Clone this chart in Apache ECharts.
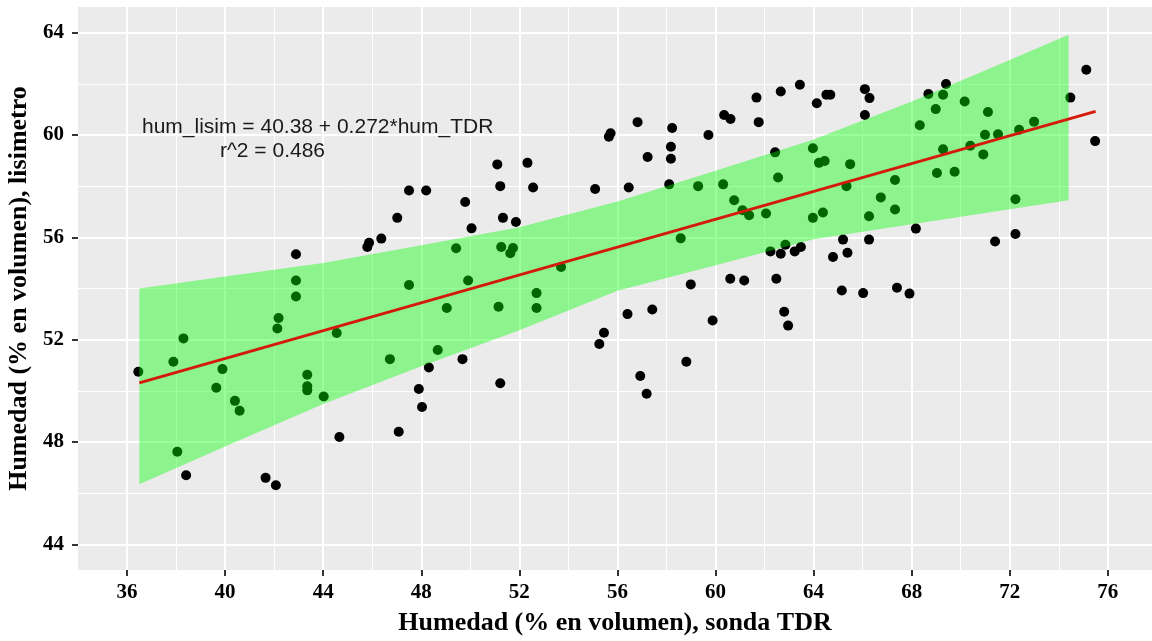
<!DOCTYPE html>
<html>
<head>
<meta charset="utf-8">
<title>Humedad lisimetro vs sonda TDR</title>
<script src="https://cdn.jsdelivr.net/npm/echarts@6.0.0/dist/echarts.min.js"></script>
<style>
  html, body { margin: 0; padding: 0; background: #fff; }
  #chart { width: 1152px; height: 641px; }
</style>
</head>
<body>
<div id="chart"></div>
<script>
// humedad medida con la sonda TDR (eje x)
const humTDR = [
  36.46, 38.30, 37.89, 38.05, 38.41, 39.89, 39.64, 40.40, 40.59, 42.89,
  42.89, 42.89, 42.18, 42.13, 41.65, 42.07, 43.35, 43.35, 43.35, 44.02,
  44.66, 44.55, 45.80, 45.87, 46.37, 47.02, 47.50, 48.20, 47.50, 46.72,
  48.67, 48.31, 47.90, 48.03, 47.08, 49.04, 49.42, 49.91, 49.79, 50.05,
  49.68, 51.10, 51.22, 52.33, 52.56, 51.33, 51.86, 51.26, 51.74, 51.63,
  51.15, 52.70, 52.70, 51.22, 53.70, 55.09, 55.26, 55.45, 55.65, 55.72,
  56.46, 56.82, 56.41, 57.42, 56.93, 57.19, 57.23, 58.23, 58.18, 58.18,
  58.11, 58.58, 58.99, 58.81, 59.29, 59.71, 59.88, 60.31, 60.35, 60.61,
  60.76, 61.10, 61.37, 60.60, 61.17, 61.67, 61.76, 62.06, 62.66, 62.43,
  62.55, 62.24, 62.66, 62.48, 62.80, 62.96, 62.85, 63.23, 63.48, 63.44,
  64.13, 64.52, 64.68, 63.97, 64.22, 64.45, 63.97, 64.38, 65.20, 64.79,
  65.38, 65.15, 65.49, 65.34, 66.09, 66.28, 66.09, 66.02, 66.26, 66.26,
  66.74, 67.32, 67.32, 67.40, 67.91, 68.17, 68.33, 68.68, 68.98, 69.28,
  69.40, 69.28, 69.03, 69.75, 70.16, 70.39, 71.11, 70.99, 70.92, 71.52,
  71.40, 72.23, 72.23, 72.38, 72.99, 74.47, 75.12, 75.48
]
// humedad medida en el lisimetro (eje y)
const humLisim = [
  50.75, 52.05, 51.14, 47.62, 46.70, 50.85, 50.12, 49.61, 49.22, 55.34,
  54.31, 53.69, 52.85, 52.44, 46.60, 46.31, 50.63, 50.18, 50.02, 49.78,
  48.20, 52.26, 55.62, 55.79, 55.95, 56.76, 57.83, 57.83, 54.14, 51.24,
  51.60, 50.91, 50.07, 49.37, 48.40, 53.24, 55.57, 54.31, 57.38, 56.35,
  51.24, 58.85, 58.00, 58.91, 57.95, 56.76, 56.60, 55.62, 55.58, 55.38,
  53.29, 53.82, 53.24, 50.30, 54.84, 57.89, 51.83, 52.27, 59.93, 60.07,
  57.95, 60.50, 53.00, 53.18, 50.58, 49.89, 59.14, 60.27, 59.54, 59.07,
  58.07, 55.96, 54.16, 51.14, 58.00, 60.00, 52.75, 58.07, 60.78, 60.62,
  57.45, 57.06, 56.86, 54.38, 54.31, 61.46, 60.50, 56.93, 61.70, 59.32,
  58.34, 55.45, 55.36, 54.38, 53.09, 52.55, 55.71, 55.45, 55.62, 61.96,
  61.24, 61.57, 61.57, 59.48, 58.91, 58.98, 56.76, 56.97, 55.91, 55.23,
  55.40, 53.92, 58.86, 58.00, 61.79, 61.44, 60.78, 53.82, 55.91, 56.82,
  57.56, 58.24, 57.09, 54.03, 53.80, 56.34, 60.38, 61.60, 61.01, 61.57,
  61.99, 59.44, 58.51, 58.56, 61.31, 59.58, 60.90, 60.01, 59.24, 60.03,
  55.84, 57.49, 56.13, 60.20, 60.52, 61.46, 62.55, 59.76
]

// recta de regresion (extremos)
const fitX = [36.5, 75.5]
const fitY = [50.31, 60.92]

// banda de confianza
const bandX = [36.5, 40, 44, 48, 52, 56, 60, 64, 68, 72, 74.4]
const bandUpper = [54.0, 54.47, 55.0, 55.69, 56.39, 57.4, 58.6, 59.82, 61.31, 62.93, 63.92]
const bandLower = [46.35, 47.83, 49.49, 50.96, 52.37, 53.91, 54.91, 55.92, 56.51, 57.1, 57.45]

// marcas de los ejes
const xTicks = [36, 40, 44, 48, 52, 56, 60, 64, 68, 72, 76]
const xMinor = [38, 42, 46, 50, 54, 58, 62, 66, 70, 74]
const yTicks = [44, 48, 52, 56, 60, 64]
const yMinor = [46, 50, 54, 58, 62]

const eqText = 'hum_lisim = 40.38 + 0.272*hum_TDR'
const r2Text = 'r^2 = 0.486'

const chart = echarts.init(document.getElementById('chart'))

const labelFont = {
  color: '#000',
  fontFamily: 'Liberation Serif',
  fontWeight: 'bold',
  fontSize: 21
}
const titleFont = {
  color: '#000',
  fontFamily: 'Liberation Serif',
  fontWeight: 'bold',
  fontSize: 26
}

const option = {
  animation: false,
  grid: {
    left: 78,
    right: 0,
    top: 7,
    bottom: 71,
    outerBoundsMode: 'none',
    containLabel: false,
    show: true,
    backgroundColor: '#ebebeb',
    borderWidth: 0
  },
  xAxis: [
    {
      type: 'value',
      min: 34,
      max: 77.8,
      name: 'Humedad (% en volumen), sonda TDR',
      nameLocation: 'middle',
      nameGap: 40,
      nameTextStyle: titleFont,
      axisLine: { show: false },
      axisTick: { show: true, length: 6, customValues: xTicks, lineStyle: { color: '#333', width: 2 } },
      axisLabel: Object.assign({ customValues: xTicks, margin: 12 }, labelFont),
      splitLine: { show: true, lineStyle: { color: '#fff', width: 2 } }
    },
    {
      type: 'value',
      min: 34,
      max: 77.8,
      axisLine: { show: false },
      axisTick: { show: false, customValues: xMinor },
      axisLabel: { show: false },
      splitLine: { show: true, lineStyle: { color: '#fff', width: 1 } }
    }
  ],
  yAxis: [
    {
      type: 'value',
      min: 43,
      max: 65,
      name: 'Humedad (% en volumen), lisimetro',
      nameLocation: 'middle',
      nameGap: 45,
      nameTextStyle: titleFont,
      axisLine: { show: false },
      axisTick: { show: true, length: 6, customValues: yTicks, lineStyle: { color: '#333', width: 2 } },
      axisLabel: Object.assign({ customValues: yTicks, margin: 14 }, labelFont),
      splitLine: { show: true, lineStyle: { color: '#fff', width: 2 } }
    },
    {
      type: 'value',
      min: 43,
      max: 65,
      axisLine: { show: false },
      axisTick: { show: false, customValues: yMinor },
      axisLabel: { show: false },
      splitLine: { show: true, lineStyle: { color: '#fff', width: 1 } }
    }
  ],
  graphic: [
    {
      type: 'text',
      z: 100,
      x: 142,
      y: 127,
      style: {
        text: eqText,
        font: '21px "Liberation Sans"',
        fill: '#1a1a1a',
        verticalAlign: 'middle'
      }
    },
    {
      type: 'text',
      z: 100,
      x: 220,
      y: 151,
      style: {
        text: r2Text,
        font: '21px "Liberation Sans"',
        fill: '#1a1a1a',
        verticalAlign: 'middle'
      }
    }
  ],
  series: [
    {
      type: 'scatter',
      z: 2,
      symbolSize: 10,
      itemStyle: { color: '#000', opacity: 1 },
      data: humTDR.map((x, i) => [x, humLisim[i]])
    },
    {
      // banda verde semitransparente por encima de los puntos
      type: 'custom',
      z: 3,
      silent: true,
      data: bandX.map((x, i) => [x, bandLower[i], bandUpper[i]]),
      encode: { x: 0, y: [1, 2] },
      renderItem: (params, api) => {
        if (params.dataIndex !== 0) return null
        const pts = []
        bandX.forEach((x, i) => pts.push(api.coord([x, bandUpper[i]])))
        for (let i = bandX.length - 1; i >= 0; i--) {
          pts.push(api.coord([bandX[i], bandLower[i]]))
        }
        return {
          type: 'polygon',
          shape: { points: pts },
          style: { fill: 'rgba(0, 255, 0, 0.4)' }
        }
      }
    },
    {
      type: 'line',
      z: 4,
      showSymbol: false,
      silent: true,
      lineStyle: { color: '#d41a0a', width: 3 },
      data: fitX.map((x, i) => [x, fitY[i]])
    }
  ]
}

chart.setOption(option)
</script>
</body>
</html>
